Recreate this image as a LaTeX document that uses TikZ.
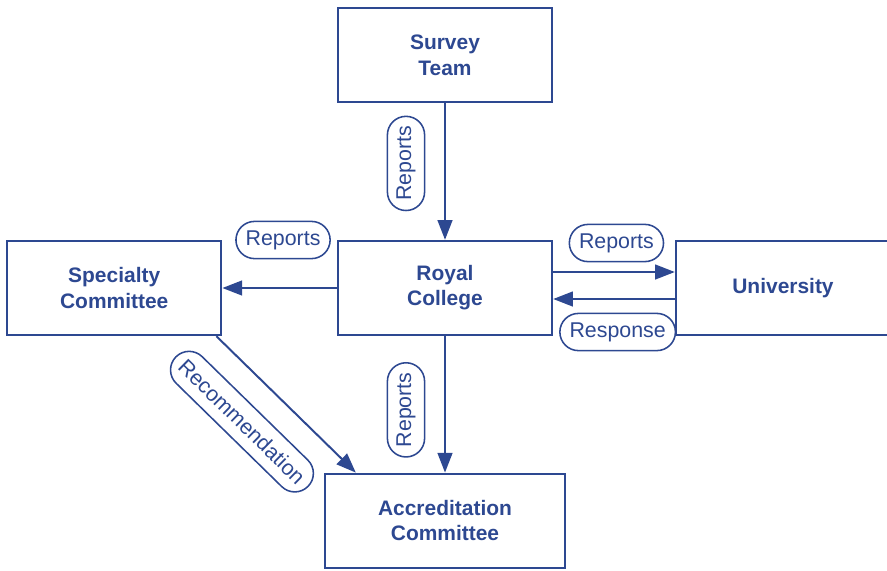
\documentclass[tikz,border=0pt]{standalone}
\usepackage{fontspec}
\setmainfont{Liberation Sans}
\usepackage{xcolor}
\usepackage{tikz}
\usetikzlibrary{arrows.meta,positioning,calc,shapes.misc}
\definecolor{ink}{RGB}{45,72,145}

\begin{document}
\begin{tikzpicture}[
    box/.style={draw=ink,line width=1.7pt,minimum width=5.35cm,minimum height=2.35cm,align=center,
      text=ink,font=\fontsize{14.9}{17.9}\selectfont\bfseries},
    tag/.style={draw=ink,rounded rectangle,line width=1.1pt,minimum height=0.93cm,inner xsep=5pt,
      text=ink,fill=white,font=\fontsize{15.2}{18}\selectfont},
    link/.style={draw=ink,line width=1.4pt,-{Triangle[length=14pt,width=10.5pt]}},
  ]
    \useasboundingbox (0,0) rectangle (22.175,-14.25);
    \node[box] (royal) at (11.125,-7.2) {Royal\\College};
    \node[box,above=3.41cm of royal] (survey) {Survey\\Team};
    \node[box,left=2.86cm of royal] (specialty) {Specialty\\Committee};
    \node[box,right=3.04cm of royal] (university) {University};
    \node[box,minimum width=6cm,below=3.41cm of royal] (accred) {Accreditation\\Committee};
    \draw[link] (survey) -- (royal)
      node[tag,pos=0.44,xshift=-0.975cm,rotate=90] (t1) {Reports};
    \draw[link] (royal) -- (specialty)
      node[tag,pos=0.47,yshift=1.2cm] (t2) {Reports};
    \draw[link] ([yshift=0.4cm]royal.east) -- ([yshift=0.4cm]university.west)
      node[tag,pos=0.52,yshift=0.725cm] (t3) {Reports};
    \draw[link] ([yshift=-0.275cm]university.west) -- ([yshift=-0.275cm]royal.east)
      node[tag,pos=0.47,yshift=-0.825cm] (t4) {Response};
    \draw[link] ([xshift=-0.15cm]specialty.south east) -- ([xshift=0.8cm]accred.north west)
      node[tag,pos=0.4,sloped,yshift=-1.08cm] (t6) {Recommendation};
    \draw[link] (royal) -- (accred)
      node[tag,pos=0.54,xshift=-0.975cm,rotate=90] (t5) {Reports};
  \end{tikzpicture}
\end{document}
